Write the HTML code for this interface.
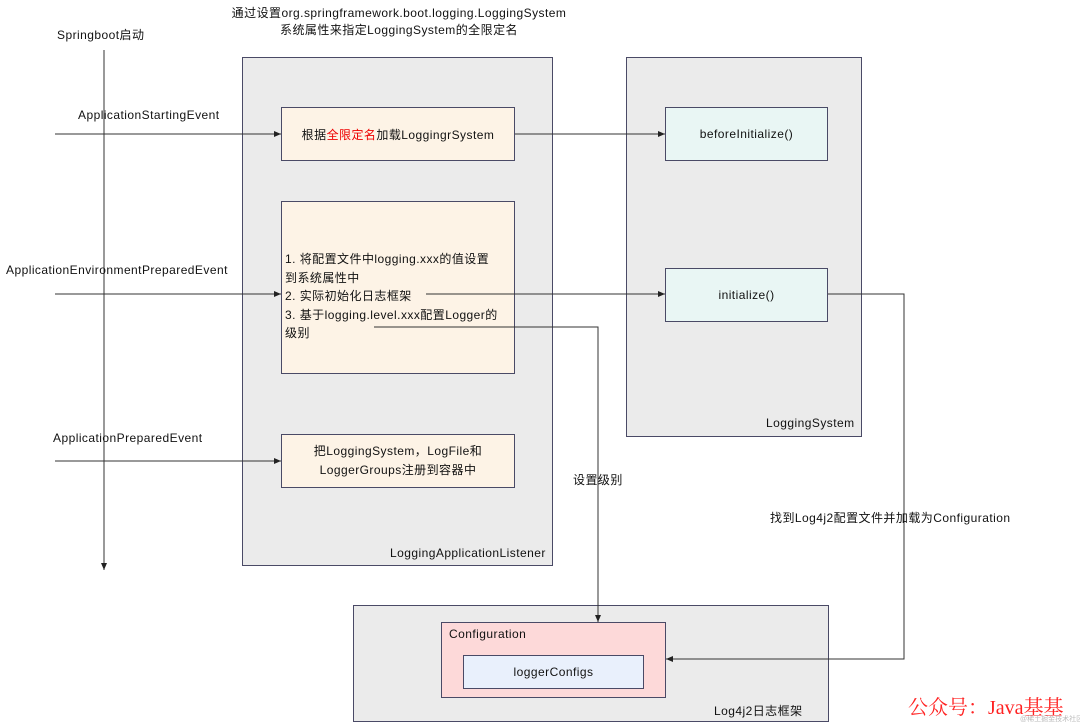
<!DOCTYPE html>
<html><head><meta charset="utf-8"><style>
body{margin:0;width:1080px;height:723px;background:#fff;position:relative;overflow:hidden;font-family:"Liberation Sans","Noto Sans CJK SC",sans-serif;font-size:12px;letter-spacing:0.45px;color:#111}
.b{position:absolute;box-sizing:border-box;border:1px solid #4a4a66}
.g{background:#ebebeb}
.c{display:flex;align-items:center;justify-content:center;text-align:center}
.t{position:absolute;white-space:nowrap}
svg{position:absolute;left:0;top:0}
</style></head><body>
<div class="b g" style="left:242px;top:57px;width:311px;height:509px"></div>
<div class="b g" style="left:626px;top:57px;width:236px;height:380px"></div>
<div class="b g" style="left:353px;top:605px;width:476px;height:117px"></div>
<div class="b c" style="left:281px;top:107px;width:234px;height:54px;background:#fdf3e6">根据<span style="color:#e00">全限定名</span>加载LoggingrSystem</div>
<div class="b" style="left:281px;top:201px;width:234px;height:173px;background:#fdf3e6"></div>
<div class="t" style="left:285px;top:250px;line-height:18.5px">1. 将配置文件中logging.xxx的值设置<br>到系统属性中<br>2. 实际初始化日志框架<br>3. 基于logging.level.xxx配置Logger的<br>级别</div>
<div class="b c" style="left:281px;top:434px;width:234px;height:54px;background:#fdf3e6;line-height:19px">把LoggingSystem，LogFile和<br>LoggerGroups注册到容器中</div>
<div class="b c" style="left:665px;top:107px;width:163px;height:54px;background:#e9f6f4">beforeInitialize()</div>
<div class="b c" style="left:665px;top:268px;width:163px;height:54px;background:#e9f6f4">initialize()</div>
<div class="b" style="left:441px;top:622px;width:225px;height:76px;background:#fdd9d9"></div>
<div class="t" style="left:449px;top:627px">Configuration</div>
<div class="b c" style="left:463px;top:655px;width:181px;height:34px;background:#e9f0fc">loggerConfigs</div>
<svg width="1080" height="723"><defs><marker id="a" markerWidth="8" markerHeight="8" refX="7" refY="4" orient="auto"><path d="M0,1 L7,4 L0,7z" fill="#222"/></marker></defs>
<g stroke="#333" fill="none" stroke-width="1">
<line x1="104" y1="50" x2="104" y2="570" marker-end="url(#a)"/>
<line x1="55" y1="134" x2="281" y2="134" marker-end="url(#a)"/>
<line x1="515" y1="134" x2="665" y2="134" marker-end="url(#a)"/>
<line x1="55" y1="294" x2="281" y2="294" marker-end="url(#a)"/>
<line x1="426" y1="294" x2="665" y2="294" marker-end="url(#a)"/>
<line x1="55" y1="461" x2="281" y2="461" marker-end="url(#a)"/>
<polyline points="374,327 598,327 598,622" marker-end="url(#a)"/>
<polyline points="828,294 904,294 904,659 666,659" marker-end="url(#a)"/>
</g></svg>
<div class="t" style="left:219px;top:5px;width:360px;text-align:center;line-height:17px">通过设置org.springframework.boot.logging.LoggingSystem<br>系统属性来指定LoggingSystem的全限定名</div>
<div class="t" style="left:57px;top:26px">Springboot启动</div>
<div class="t" style="left:78px;top:108px">ApplicationStartingEvent</div>
<div class="t" style="left:6px;top:263px">ApplicationEnvironmentPreparedEvent</div>
<div class="t" style="left:53px;top:431px">ApplicationPreparedEvent</div>
<div class="t" style="left:390px;top:546px">LoggingApplicationListener</div>
<div class="t" style="left:766px;top:416px">LoggingSystem</div>
<div class="t" style="left:573px;top:471px">设置级别</div>
<div class="t" style="left:770px;top:509px">找到Log4j2配置文件并加载为Configuration</div>
<div class="t" style="left:714px;top:702px">Log4j2日志框架</div>
<div class="t" style="left:908px;top:691px;color:#f22;font-size:20px;letter-spacing:0;font-family:'Liberation Serif','Noto Serif CJK SC',serif">公众号：Java基基</div>
<div class="t" style="left:1020px;top:714px;color:#bbb;font-size:7px;letter-spacing:0">@稀土掘金技术社区</div>
</body></html>
